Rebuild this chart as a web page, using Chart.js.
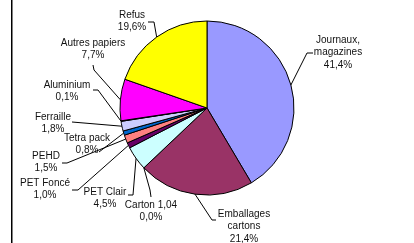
<!DOCTYPE html>
<html>
<head>
<meta charset="utf-8">
<script src="https://cdn.jsdelivr.net/npm/chart.js@4"></script>
<style>
  html, body { margin: 0; padding: 0; background: #fff; }
  canvas { display: block; }
</style>
</head>
<body>
<canvas id="pie" width="414" height="243"></canvas>
<script>
const categories = [
  ['Journaux,', 'magazines'],
  ['Emballages', 'cartons'],
  ['Carton 1,04'],
  ['PET Clair'],
  ['PET Foncé'],
  ['PEHD'],
  ['Tetra pack'],
  ['Ferraille'],
  ['Aluminium'],
  ['Autres papiers'],
  ['Refus'],
];

const shares = [41.4, 21.4, 0.0, 4.5, 1.0, 1.5, 0.8, 1.8, 0.1, 7.7, 19.6];

const sliceColors = [
  '#9999FF',
  '#993366',
  '#FFFFCC',
  '#CCFFFF',
  '#660066',
  '#FF8080',
  '#0066CC',
  '#CCCCFF',
  '#000080',
  '#FF00FF',
  '#FFFF00',
];

// where each label sits (center x, first line y) and the leader stub near it
const labelLayout = [
  { x: 338, y: 40, stub: [[313, 53], [307, 53]] },
  { x: 244, y: 214, stub: [[216, 220], [212, 220]] },
  { x: 151, y: 205, stub: [[151, 197], [150, 190]] },
  { x: 105, y: 192, stub: [[128, 195], [133, 195]] },
  { x: 45, y: 183, stub: [[72, 190], [78, 190]] },
  { x: 46, y: 156, stub: [[62, 163], [67, 163]] },
  { x: 87, y: 138, stub: [[99, 152]] },
  { x: 53, y: 117, stub: [[72, 122]] },
  { x: 67, y: 85, stub: [[93, 90], [98, 90]] },
  { x: 93, y: 43, stub: [[93, 65], [94, 70]] },
  { x: 132, y: 15, stub: [[148, 22], [154, 22]] },
];

const fmtPct = v => v.toFixed(1).replace('.', ',') + '%';

const pieLabels = {
  id: 'pieLabels',
  afterDraw(chart) {
    const ctx = chart.ctx;
    const arcs = chart.getDatasetMeta(0).data;
    ctx.save();

    // left frame edge
    ctx.fillStyle = '#000';
    ctx.fillRect(11, 0, 1.5, chart.height);

    ctx.strokeStyle = '#000';
    ctx.lineWidth = 1;
    arcs.forEach((arc, i) => {
      const p = arc.getProps(['x', 'y', 'startAngle', 'endAngle', 'outerRadius'], true);
      const mid = (p.startAngle + p.endAngle) / 2;
      const ex = p.x + Math.cos(mid) * p.outerRadius;
      const ey = p.y + Math.sin(mid) * p.outerRadius;
      const stub = labelLayout[i].stub;
      ctx.beginPath();
      ctx.moveTo(stub[0][0], stub[0][1]);
      for (let k = 1; k < stub.length; k++) ctx.lineTo(stub[k][0], stub[k][1]);
      ctx.lineTo(ex, ey);
      ctx.stroke();
    });

    ctx.font = '10px "Liberation Sans", Arial, sans-serif';
    ctx.fillStyle = '#111';
    ctx.textAlign = 'center';
    ctx.textBaseline = 'middle';
    categories.forEach((lines, i) => {
      const pos = labelLayout[i];
      const all = lines.concat([fmtPct(shares[i])]);
      all.forEach((t, k) => ctx.fillText(t, pos.x, pos.y + k * 12.5));
    });
    ctx.restore();
  },
};

new Chart(document.getElementById('pie').getContext('2d'), {
  type: 'pie',
  data: {
    labels: categories.map(c => c.join(' ')),
    datasets: [
      {
        data: shares,
        backgroundColor: sliceColors,
        borderColor: '#000',
        borderWidth: 1,
      },
    ],
  },
  options: {
    responsive: false,
    animation: false,
    radius: 87,
    layout: { padding: { top: 21, bottom: 48, left: 100, right: 100 } },
    plugins: {
      legend: { display: false },
      tooltip: { enabled: false },
    },
  },
  plugins: [pieLabels],
});
</script>
</body>
</html>
